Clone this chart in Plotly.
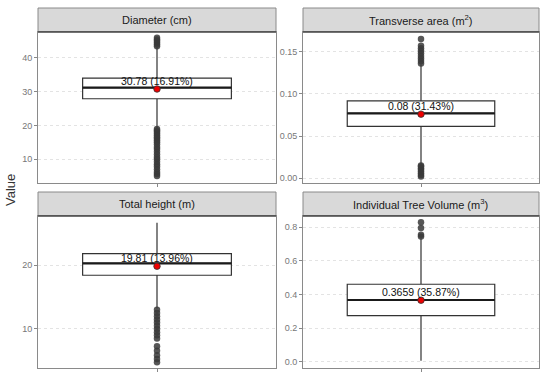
import plotly.graph_objects as go

# ---------------- data ----------------
titles = ["Diameter (cm)", "Transverse area (m<sup>2</sup>)",
          "Total height (m)", "Individual Tree Volume (m<sup>3</sup>)"]
q1 = [27.9, 0.0616, 18.4, 0.274]
median = [31.2, 0.077, 20.27, 0.367]
q3 = [34.0, 0.0916, 21.77, 0.461]
lowerfence = [19.0, 0.016, 13.2, 0.005]
upperfence = [43.2, 0.135, 26.6, 0.735]
means = [30.78, 0.076, 19.81, 0.3659]
labels = ["30.78 (16.91%)", "0.08 (31.43%)", "19.81 (13.96%)", "0.3659 (35.87%)"]
outliers = [
    [43.5, 44.0, 44.5, 45.0, 45.5, 46.0,
     5.0, 5.6, 6.2, 7.0, 7.8, 8.5, 9.2, 10.0, 10.6, 11.4, 12.2, 13.0, 13.6,
     14.4, 15.0, 15.5, 16.0, 16.5, 17.0, 17.5, 18.0, 18.5, 18.9],
    [0.136, 0.139, 0.142, 0.145, 0.148, 0.151, 0.154, 0.157, 0.165,
     0.002, 0.004, 0.006, 0.008, 0.010, 0.012, 0.014, 0.015],
    [4.8, 5.3, 5.9, 6.6, 7.3, 8.5, 9.0, 9.5, 10.0, 10.5, 11.0, 11.5, 12.0, 12.5, 13.0],
    [0.745, 0.755, 0.795, 0.83],
]
y_ranges = [[2.9, 47.7], [-0.0056, 0.1733], [3.9, 27.66], [-0.0375, 0.867]]
y_ticks = [[10, 20, 30, 40], [0, 0.05, 0.10, 0.15], [10, 20], [0, 0.2, 0.4, 0.6, 0.8]]
y_fmt = ["d", ".2f", "d", ".1f"]

# ---------------- layout ----------------
W, H = 550, 379
x_dom = [[38 / W, 276 / W], [303 / W, 539 / W]]
y_plot = [[1 - 183 / H, 1 - 32 / H], [1 - 368 / H, 1 - 216 / H]]
y_strip = [[1 - 32 / H, 1 - 8 / H], [1 - 216 / H, 1 - 192 / H]]
box_w = 0.75
font = "Liberation Sans, Arial"

fig = go.Figure()
shapes, annotations = [], []
layout_axes = {}
for i in range(4):
    r, c = divmod(i, 2)
    n = "" if i == 0 else str(i + 1)
    xa, ya = "x" + n, "y" + n
    fig.add_trace(go.Box(
        x=[0], q1=[q1[i]], median=[median[i]], q3=[q3[i]],
        lowerfence=[lowerfence[i]], upperfence=[upperfence[i]],
        width=box_w, whiskerwidth=0, fillcolor="white",
        line=dict(color="#333333", width=1.2), boxpoints=False,
        xaxis=xa, yaxis=ya, showlegend=False, hoverinfo="skip"))
    fig.add_trace(go.Scatter(
        x=[-box_w / 2, box_w / 2], y=[median[i], median[i]], mode="lines",
        line=dict(color="#1a1a1a", width=2.2), xaxis=xa, yaxis=ya,
        showlegend=False, hoverinfo="skip"))
    fig.add_trace(go.Scatter(
        x=[0] * len(outliers[i]), y=outliers[i], mode="markers",
        marker=dict(color="#3a3a3a", size=6.5, opacity=0.85),
        xaxis=xa, yaxis=ya, showlegend=False, hoverinfo="skip"))
    fig.add_trace(go.Scatter(
        x=[0], y=[means[i]], mode="markers",
        marker=dict(color="#ee0000", size=6.5, line=dict(color="#333333", width=0.8)),
        xaxis=xa, yaxis=ya, showlegend=False, hoverinfo="skip"))
    annotations.append(dict(text=labels[i], xref=xa, yref=ya, x=0, y=means[i],
                            showarrow=False, xanchor="center", yanchor="bottom", yshift=0,
                            font=dict(family=font, size=10.5, color="#111111")))

    layout_axes["xaxis" + n] = dict(
        domain=x_dom[c], range=[-0.6, 0.6], anchor=ya, tickvals=[0],
        showticklabels=False, ticks="outside", ticklen=3, tickcolor="#888888",
        showgrid=False, zeroline=False, showline=True, mirror=True,
        linecolor="#8a8a8a", linewidth=1, automargin=False)
    layout_axes["yaxis" + n] = dict(
        domain=y_plot[r], range=y_ranges[i], anchor=xa, tickvals=y_ticks[i],
        tickformat=y_fmt[i], ticks="outside", ticklen=3, tickcolor="#888888",
        tickfont=dict(family=font, size=9, color="#777777"),
        showgrid=True, gridcolor="#e3e3e3", griddash="3px,3px", gridwidth=1,
        zeroline=False, showline=True, mirror=True, linecolor="#8a8a8a", linewidth=1,
        automargin=False)

    shapes.append(dict(type="rect", xref="paper", yref="paper",
                       x0=x_dom[c][0], x1=x_dom[c][1], y0=y_strip[r][0], y1=y_strip[r][1],
                       fillcolor="#d9d9d9", line=dict(color="#8a8a8a", width=1), layer="below"))
    shapes.append(dict(type="line", xref="paper", yref="paper",
                       x0=x_dom[c][0], x1=x_dom[c][1], y0=y_strip[r][0], y1=y_strip[r][0],
                       line=dict(color="#222222", width=1.2)))
    annotations.append(dict(text=titles[i], xref="paper", yref="paper",
                            x=(x_dom[c][0] + x_dom[c][1]) / 2,
                            y=(y_strip[r][0] + y_strip[r][1]) / 2,
                            showarrow=False, xanchor="center", yanchor="middle",
                            font=dict(family=font, size=11, color="#1a1a1a")))

annotations.append(dict(text="Value", xref="paper", yref="paper", x=10 / W, y=1 - 190 / H,
                        textangle=-90, showarrow=False, xanchor="center", yanchor="middle",
                        font=dict(family=font, size=13, color="#333333")))

fig.update_layout(width=W, height=H,
                  margin=dict(l=0, r=0, t=0, b=0, autoexpand=False),
                  paper_bgcolor="white", plot_bgcolor="white",
                  shapes=shapes, annotations=annotations, **layout_axes)
fig.write_html("out.html", config={"displayModeBar": False},
               post_script="document.body.style.margin='0';document.body.style.overflow='hidden';")
